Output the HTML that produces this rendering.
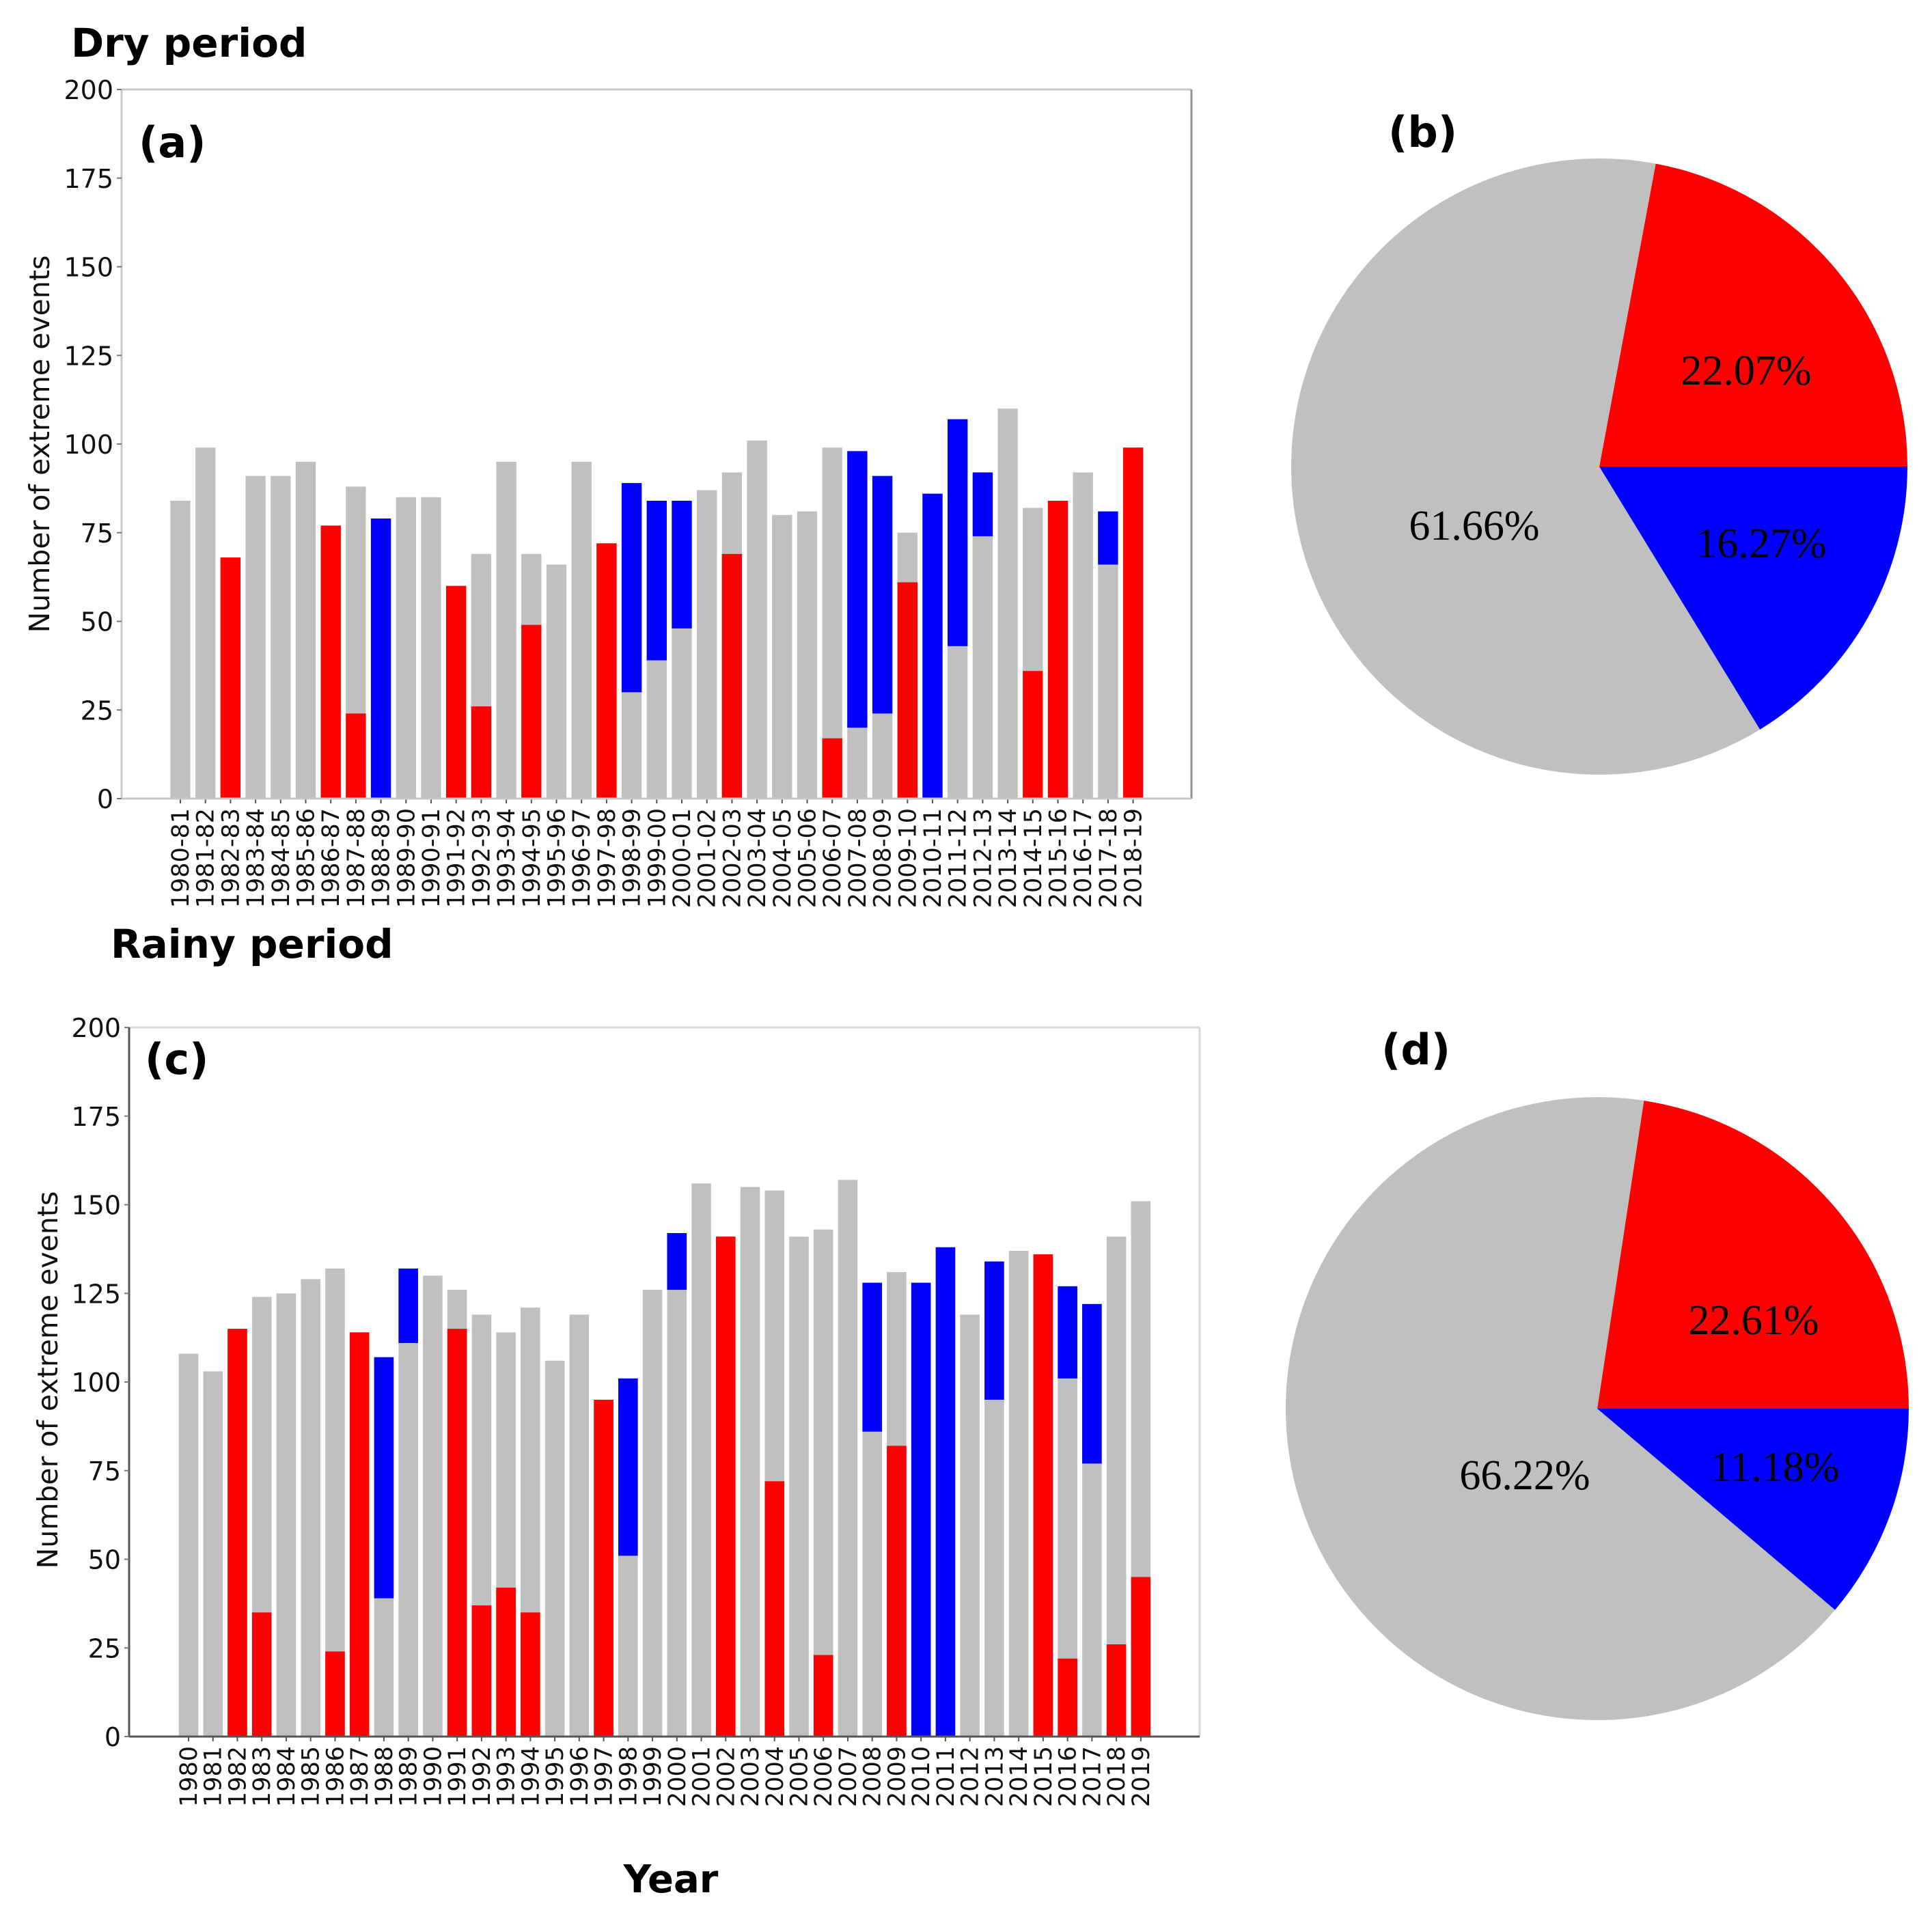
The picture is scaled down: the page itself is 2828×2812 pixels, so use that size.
<!DOCTYPE html>
<html><head><meta charset="utf-8"><style>
html,body{margin:0;padding:0;background:#fff}
svg{display:block}
text{font-family:"DejaVu Sans","Liberation Sans",sans-serif}
.tk{font-size:35px;fill:#111}
.ytk{font-size:38px;fill:#111}
.pl{font-family:"Liberation Serif","DejaVu Serif",serif;font-size:62px;fill:#000}
</style></head><body>
<svg id="fig" width="2828" height="2812" viewBox="0 0 2828 2812" xmlns="http://www.w3.org/2000/svg">
<text x="104" y="83" font-size="58" font-weight="bold">Dry period</text>
<text x="162" y="1402" font-size="58" font-weight="bold">Rainy period</text>
<text x="982" y="2770" font-size="56" font-weight="bold" text-anchor="middle">Year</text>
<g id="chartA"></g>
<g id="chartC"></g>
<g id="pieB"></g>
<g id="pieD"></g>
</svg>
<script>
const dryLabels = ["1980-81","1981-82","1982-83","1983-84","1984-85","1985-86","1986-87","1987-88","1988-89","1989-90","1990-91","1991-92","1992-93","1993-94","1994-95","1995-96","1996-97","1997-98","1998-99","1999-00","2000-01","2001-02","2002-03","2003-04","2004-05","2005-06","2006-07","2007-08","2008-09","2009-10","2010-11","2011-12","2012-13","2013-14","2014-15","2015-16","2016-17","2017-18","2018-19"];
const dryTotal = [84,99,68,91,91,95,77,88,79,85,85,60,69,95,69,66,95,72,89,84,84,87,92,101,80,81,99,98,91,75,86,107,92,110,82,84,92,81,99];
const dryRed = [0,0,68,0,0,0,77,24,0,0,0,60,26,0,49,0,0,72,0,0,0,0,69,0,0,0,17,0,0,61,0,0,0,0,36,84,0,0,99];
const dryBlueBase = [null,null,null,null,null,null,null,null,0,null,null,null,null,null,null,null,null,null,30,39,48,null,null,null,null,null,null,20,24,null,0,43,74,null,null,null,null,66,null];

const rainyLabels = ["1980","1981","1982","1983","1984","1985","1986","1987","1988","1989","1990","1991","1992","1993","1994","1995","1996","1997","1998","1999","2000","2001","2002","2003","2004","2005","2006","2007","2008","2009","2010","2011","2012","2013","2014","2015","2016","2017","2018","2019"];
const rainyTotal = [108,103,115,124,125,129,132,114,107,132,130,126,119,114,121,106,119,95,101,126,142,156,141,155,154,141,143,157,128,131,128,138,119,134,137,136,127,122,141,151];
const rainyRed = [0,0,115,35,0,0,24,114,0,0,0,115,37,42,35,0,0,95,0,0,0,0,141,0,72,0,23,0,0,82,0,0,0,0,0,136,22,0,26,45];
const rainyBlueBase = [null,null,null,null,null,null,null,null,39,111,null,null,null,null,null,null,null,null,51,null,126,null,null,null,null,null,null,null,86,null,0,0,null,95,null,null,101,77,null,null];

const yTicks = [0,25,50,75,100,125,150,175,200];
const dryPieValues = [22.07,61.66,16.27];
const dryPieLabels = ["22.07%","61.66%","16.27%"];
const rainyPieValues = [22.61,66.22,11.18];
const rainyPieLabels = ["22.61%","66.22%","11.18%"];

const NS = "http://www.w3.org/2000/svg";
function mk(tag, attrs, parent){const e=document.createElementNS(NS,tag);for(const k in attrs)e.setAttribute(k,attrs[k]);parent.appendChild(e);return e;}

function barChart(g, cfg, labels, total, red, blueBase, tag){
  const y = v => cfg.y0 - (v/200)*(cfg.y0-cfg.y1);
  const x = i => cfg.c0 + i*cfg.pitch;
  const bw = cfg.pitch*0.8;
  let f;
  f = mk('line',{x1:cfg.x0,y1:cfg.y1,x2:cfg.x2,y2:cfg.y1,stroke:cfg.topC,'stroke-width':3},g);
  
  
  f = mk('line',{x1:cfg.x2,y1:cfg.y1,x2:cfg.x2,y2:cfg.y0,stroke:cfg.rightC,'stroke-width':3},g);
  
  
  labels.forEach((lab,i)=>{
    const cx = x(i);
    let r = mk('rect',{x:cx-bw/2,y:y(total[i]),width:bw,height:y(0)-y(total[i]),fill:'#c0c0c0'},g);
    
    
    if(red[i]>0){
      r = mk('rect',{x:cx-bw/2,y:y(red[i]),width:bw,height:y(0)-y(red[i]),fill:'#ff0000'},g);
      
      
    }
    if(blueBase[i]!==null){
      r = mk('rect',{x:cx-bw/2,y:y(total[i]),width:bw,height:y(blueBase[i])-y(total[i]),fill:'#0000ff'},g);
      
      
    }
    const tk = mk('line',{x1:cx,y1:cfg.y0,x2:cx,y2:cfg.y0+7,stroke:'#555','stroke-width':2},g);
    
    
    const t = mk('text',{x:0,y:0,class:'tk','text-anchor':'end',transform:`translate(${cx+12},${cfg.y0+14}) rotate(-90)`},g);
    t.textContent = lab;
    
    
  });
  f = mk('line',{x1:cfg.x0,y1:cfg.y1,x2:cfg.x0,y2:cfg.y0,stroke:cfg.leftC,'stroke-width':3},g);
  
  
  f = mk('line',{x1:cfg.x0,y1:cfg.y0,x2:cfg.x2,y2:cfg.y0,stroke:cfg.botC,'stroke-width':3},g);
  
  
  yTicks.forEach(v=>{
    const tl = mk('line',{x1:cfg.x0-7,y1:y(v),x2:cfg.x0,y2:y(v),stroke:'#777','stroke-width':2},g);
    
    
    const t = mk('text',{x:cfg.x0-12,y:y(v)+14,class:'ytk','text-anchor':'end'},g);
    t.textContent = v;
    
    
  });
  const yl = mk('text',{x:0,y:0,'font-size':41,'text-anchor':'middle',fill:'#111',transform:`translate(${cfg.ylx},${cfg.yly}) rotate(-90)`},g);
  yl.textContent = 'Number of extreme events';
  
  
  const pl = mk('text',{x:cfg.plx,y:cfg.ply,'font-size':62,'font-weight':'bold'},g);
  pl.textContent = cfg.panel;
  
  
}

barChart(document.getElementById('chartA'),
  {x0:178,x2:1744,y0:1169,y1:131,c0:264,pitch:36.7,topC:'#c8c8c8',rightC:'#909090',leftC:'#c8c8c8',botC:'#c8c8c8',ylx:72,yly:650,plx:203,ply:230,panel:'(a)'},
  dryLabels, dryTotal, dryRed, dryBlueBase, 'dry');
barChart(document.getElementById('chartC'),
  {x0:189,x2:1756,y0:2542,y1:1504,c0:276,pitch:35.74,topC:'#d8d8d8',rightC:'#d8d8d8',leftC:'#555',botC:'#555',ylx:84,yly:2020,plx:212,ply:1572,panel:'(c)'},
  rainyLabels, rainyTotal, rainyRed, rainyBlueBase, 'rainy');

function pie(g, cx, cy, r, values, labels, pos, tag, panel, px, py){
  const cols = ['#ff0000','#c0c0c0','#0000ff'];
  const names = ['red','grey','blue'];
  const sum = values.reduce((a,b)=>a+b,0);
  let a0 = 0;
  values.forEach((v,i)=>{
    const a1 = a0 + v/sum*2*Math.PI;
    const xa = cx + r*Math.cos(a0), ya = cy - r*Math.sin(a0);
    const xb = cx + r*Math.cos(a1), yb = cy - r*Math.sin(a1);
    const large = (a1-a0)>Math.PI?1:0;
    const p = mk('path',{d:`M${cx},${cy} L${xa},${ya} A${r},${r} 0 ${large} 0 ${xb},${yb} Z`,fill:cols[i]},g);
    
    
    a0 = a1;
  });
  labels.forEach((l,i)=>{
    const t = mk('text',{x:pos[i][0],y:pos[i][1],class:'pl','text-anchor':'middle'},g);
    t.textContent = l;
    
    
  });
  const pl = mk('text',{x:px,y:py,'font-size':62,'font-weight':'bold'},g);
  pl.textContent = panel;
  
  
}
pie(document.getElementById('pieB'), 2341, 683, 451, dryPieValues, dryPieLabels,
  [[2556,563],[2158,790],[2578,816]], 'dry-pie', '(b)', 2032, 215);
pie(document.getElementById('pieD'), 2338, 2062, 456, rainyPieValues, rainyPieLabels,
  [[2567,1953],[2232,2180],[2598,2168]], 'rainy-pie', '(d)', 2022, 1558);
</script>
</body></html>
